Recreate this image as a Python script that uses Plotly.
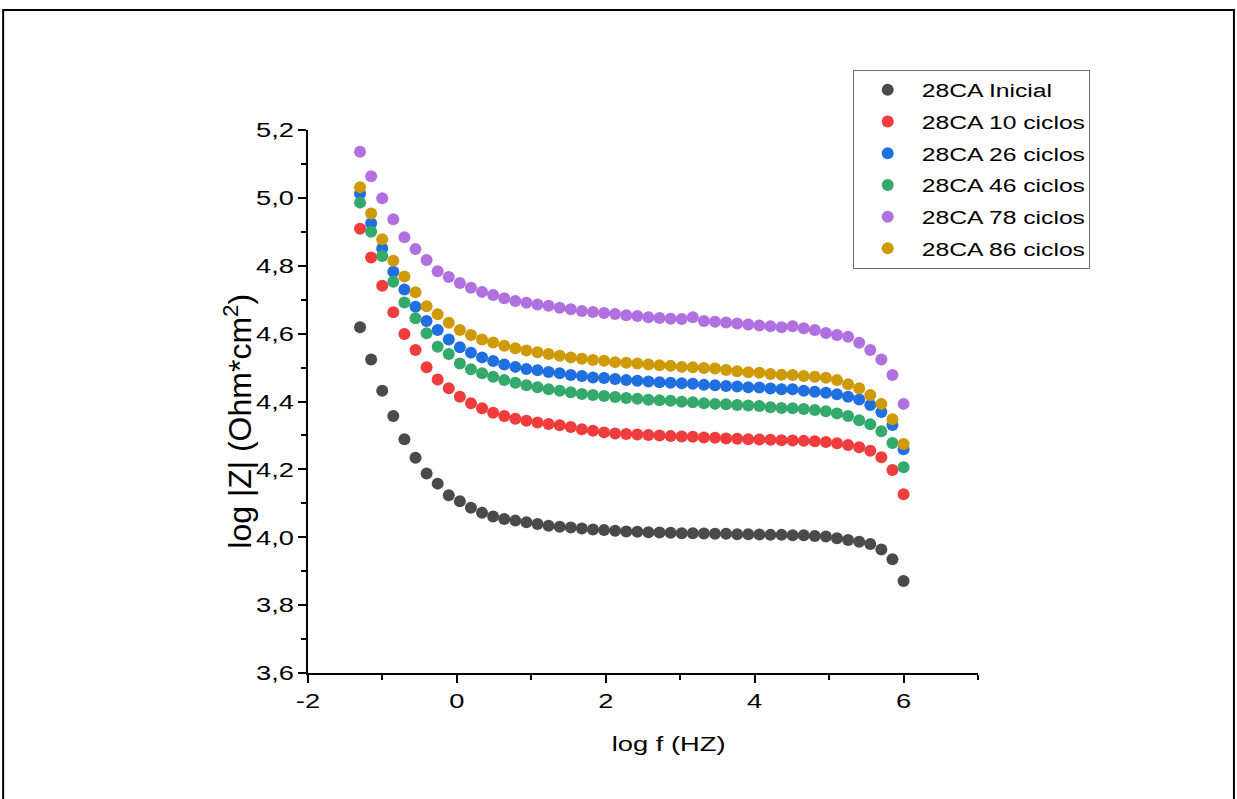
import plotly.graph_objects as go

# log10 of the measurement frequency (Hz), 50 points from 0.05 Hz to 1 MHz
log_f = [-1.301, -1.152, -1.003, -0.854, -0.705, -0.556, -0.407, -0.258, -0.109, 0.040,
         0.189, 0.338, 0.487, 0.636, 0.785, 0.934, 1.083, 1.232, 1.381, 1.530,
         1.679, 1.828, 1.977, 2.126, 2.275, 2.424, 2.573, 2.722, 2.871, 3.020,
         3.169, 3.318, 3.467, 3.616, 3.765, 3.914, 4.063, 4.212, 4.361, 4.510,
         4.659, 4.808, 4.957, 5.106, 5.255, 5.404, 5.553, 5.702, 5.851, 6.000]

# log |Z| (Ohm*cm^2) for each sample
z_inicial = [4.619, 4.524, 4.432, 4.357, 4.289, 4.234, 4.188, 4.158, 4.124, 4.106,
             4.087, 4.072, 4.061, 4.054, 4.049, 4.044, 4.039, 4.034, 4.031, 4.029,
             4.026, 4.023, 4.021, 4.019, 4.017, 4.016, 4.015, 4.014, 4.013, 4.012,
             4.012, 4.011, 4.010, 4.010, 4.009, 4.009, 4.008, 4.007, 4.007, 4.006,
             4.006, 4.004, 4.002, 3.997, 3.992, 3.987, 3.980, 3.964, 3.935, 3.871]

z_10 = [4.909, 4.824, 4.741, 4.663, 4.599, 4.552, 4.501, 4.465, 4.439, 4.414,
        4.395, 4.380, 4.367, 4.357, 4.349, 4.343, 4.338, 4.334, 4.330, 4.325,
        4.318, 4.314, 4.309, 4.306, 4.304, 4.303, 4.301, 4.300, 4.298, 4.297,
        4.296, 4.294, 4.293, 4.291, 4.290, 4.289, 4.288, 4.287, 4.286, 4.285,
        4.284, 4.283, 4.281, 4.277, 4.272, 4.265, 4.255, 4.236, 4.198, 4.127]

z_26 = [5.013, 4.925, 4.851, 4.782, 4.730, 4.679, 4.637, 4.611, 4.583, 4.560,
        4.544, 4.530, 4.519, 4.509, 4.502, 4.496, 4.492, 4.487, 4.483, 4.478,
        4.475, 4.471, 4.469, 4.466, 4.463, 4.461, 4.459, 4.457, 4.455, 4.454,
        4.452, 4.449, 4.448, 4.446, 4.444, 4.442, 4.441, 4.438, 4.436, 4.436,
        4.432, 4.429, 4.426, 4.421, 4.414, 4.406, 4.390, 4.369, 4.331, 4.259]

z_46 = [4.986, 4.900, 4.829, 4.753, 4.692, 4.645, 4.601, 4.561, 4.540, 4.512,
        4.495, 4.483, 4.473, 4.463, 4.455, 4.448, 4.442, 4.436, 4.432, 4.427,
        4.422, 4.419, 4.416, 4.413, 4.410, 4.408, 4.405, 4.404, 4.402, 4.399,
        4.398, 4.395, 4.393, 4.392, 4.390, 4.388, 4.387, 4.383, 4.381, 4.380,
        4.378, 4.375, 4.371, 4.365, 4.357, 4.345, 4.333, 4.312, 4.278, 4.206]

z_78 = [5.136, 5.064, 4.999, 4.937, 4.884, 4.849, 4.817, 4.784, 4.767, 4.749,
        4.735, 4.723, 4.714, 4.704, 4.696, 4.691, 4.686, 4.682, 4.676, 4.672,
        4.667, 4.664, 4.661, 4.658, 4.654, 4.652, 4.648, 4.646, 4.644, 4.643,
        4.648, 4.637, 4.635, 4.633, 4.630, 4.627, 4.624, 4.622, 4.619, 4.622,
        4.616, 4.611, 4.602, 4.596, 4.591, 4.573, 4.552, 4.524, 4.478, 4.393]

z_86 = [5.031, 4.954, 4.878, 4.815, 4.768, 4.722, 4.681, 4.657, 4.632, 4.611,
        4.596, 4.583, 4.574, 4.564, 4.557, 4.550, 4.545, 4.540, 4.535, 4.530,
        4.526, 4.522, 4.520, 4.516, 4.514, 4.512, 4.509, 4.507, 4.505, 4.502,
        4.501, 4.499, 4.497, 4.493, 4.489, 4.486, 4.485, 4.481, 4.479, 4.478,
        4.475, 4.473, 4.470, 4.463, 4.451, 4.439, 4.419, 4.393, 4.348, 4.275]

series_names = ["28CA Inicial", "28CA 10 ciclos", "28CA 26 ciclos",
                "28CA 46 ciclos", "28CA 78 ciclos", "28CA 86 ciclos"]
series_values = [z_inicial, z_10, z_26, z_46, z_78, z_86]
series_colors = ["#4a4a4a", "#f03c3c", "#1f6fe0", "#33a96b", "#b070e0", "#cf9a08"]

x_tick_vals = [-2, 0, 2, 4, 6]
x_tick_labels = ["-2", "0", "2", "4", "6"]
y_tick_vals = [3.6, 3.8, 4.0, 4.2, 4.4, 4.6, 4.8, 5.0, 5.2]
y_tick_labels = ["3,6", "3,8", "4,0", "4,2", "4,4", "4,6", "4,8", "5,0", "5,2"]

x_title = "log f (HZ)"
y_title = "log |Z| (Ohm*cm<sup>2</sup>)"

FONT = "Liberation Sans, Arial, sans-serif"

fig = go.Figure()
for i, (name, vals, col) in enumerate(zip(series_names, series_values, series_colors)):
    fig.add_trace(go.Scatter(
        x=log_f, y=vals, mode="markers", name=name, legendgroup=f"g{i}",
        marker=dict(size=12, color=col, line=dict(width=0)),
    ))

axis_common = dict(
    showline=True, linecolor="black", linewidth=1.5, mirror=False,
    ticks="outside", ticklen=8, tickwidth=1.5, tickcolor="black",
    showgrid=False, zeroline=False, tickmode="array",
    tickfont=dict(family=FONT, size=21, color="black"),
)

fig.update_xaxes(
    range=[-2, 7], tickvals=x_tick_vals, ticktext=x_tick_labels,
    minor=dict(tickmode="linear", tick0=-1, dtick=2, ticks="outside", ticklen=5,
               tickwidth=1.5, tickcolor="black"),
    **axis_common,
)
fig.update_yaxes(
    range=[3.6, 5.2], tickvals=y_tick_vals, ticktext=y_tick_labels,
    minor=dict(tickmode="linear", tick0=3.7, dtick=0.2, ticks="outside", ticklen=5,
               tickwidth=1.5, tickcolor="black"),
    **axis_common,
)

# axis titles, placed as paper annotations
fig.add_annotation(text=x_title, xref="paper", yref="paper", x=0.539, y=-0.129,
                   xanchor="center", yanchor="middle", showarrow=False,
                   font=dict(family=FONT, size=21, color="black"))
fig.add_annotation(text=y_title, xref="paper", yref="paper", x=-0.105, y=0.464,
                   xanchor="center", yanchor="middle", showarrow=False, textangle=-90,
                   font=dict(family=FONT, size=32, color="black"))

# outer frame around the figure
fig.add_shape(type="rect", xref="paper", yref="paper",
              x0=-0.455, x1=1.382, y0=-0.26, y1=1.221,
              line=dict(color="black", width=2), fillcolor="rgba(0,0,0,0)", layer="above")

fig.update_layout(
    width=1237, height=799,
    margin=dict(l=308, r=259, t=130, b=126, autoexpand=False),
    paper_bgcolor="white", plot_bgcolor="white",
    font=dict(family=FONT, color="black"),
    showlegend=True,
    legend=dict(
        x=0.813, y=1.1105, xanchor="left", yanchor="top",
        bordercolor="#6e6e6e", borderwidth=1, bgcolor="white",
        font=dict(family=FONT, size=19, color="black"),
        tracegroupgap=4, itemwidth=58,
    ),
)

# The lettering of this figure is set wide: widen the horizontal texts
# (tick labels keep their edge next to the axis, legend labels keep their start)
# and let the legend box grow with its labels.
widen_text = """
var gd = document.getElementById('{plot_id}');
var svg = gd.querySelector('svg.main-svg');
function widen(el, anchor, S) {
  var r = el.getBoundingClientRect();
  if (!r.width) { return; }
  var inv = el.parentNode.getScreenCTM().inverse();
  var pt = svg.createSVGPoint();
  pt.x = anchor === 'start' ? r.left : (anchor === 'end' ? r.right : (r.left + r.right) / 2);
  pt.y = (r.top + r.bottom) / 2;
  var q = pt.matrixTransform(inv);
  var t = el.getAttribute('transform') || '';
  el.setAttribute('transform', 'translate(' + q.x + ',' + q.y + ') scale(' + S + ',1) translate(' +
                  (-q.x) + ',' + (-q.y) + ') ' + t);
}
gd.querySelectorAll('g.xtick text').forEach(function (el) { widen(el, 'middle', 1.3); });
gd.querySelectorAll('g.ytick text').forEach(function (el) { widen(el, 'end', 1.3); });
var xa = gd.querySelector('g.annotation[data-index="0"]');
if (xa) { widen(xa, 'middle', 1.3); }
var texts = gd.querySelectorAll('g.legend text.legendtext');
texts.forEach(function (el) { widen(el, 'start', 1.3); });
var bg = gd.querySelector('g.legend rect.bg');
if (bg) {
  var maxRight = 0;
  texts.forEach(function (el) { maxRight = Math.max(maxRight, el.getBoundingClientRect().right); });
  var left = bg.getBoundingClientRect().left;
  bg.setAttribute('width', (maxRight + 4 - left).toFixed(1));
}
var sb = gd.querySelector('g.legend g.scrollbox');
if (sb) { sb.removeAttribute('clip-path'); }
"""

fig.write_html("out.html", post_script=widen_text)
